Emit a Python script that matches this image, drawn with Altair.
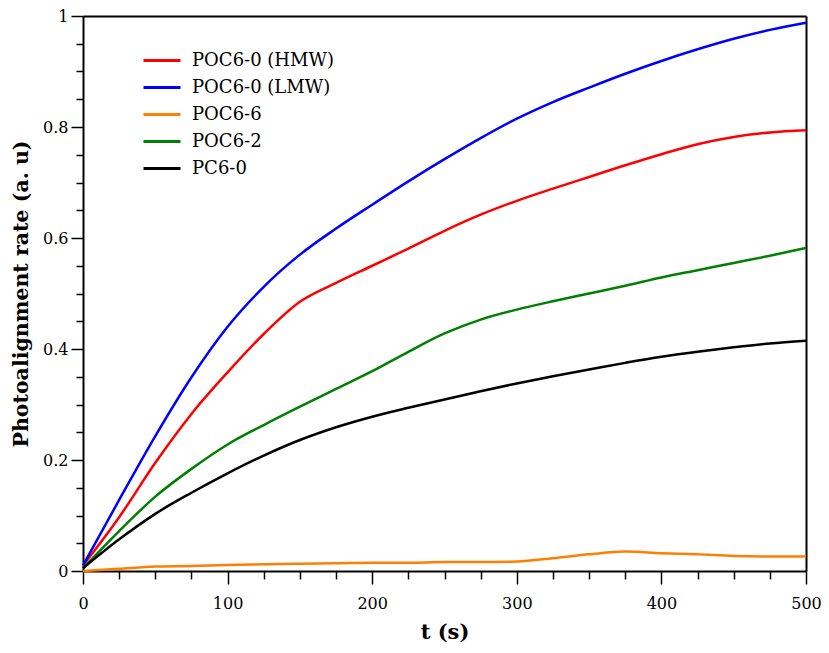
import altair as alt
import pandas as pd

# ---- data ----
t_s = [0, 25, 50, 75, 100, 125, 150, 175, 200, 225, 250, 275, 300, 325, 350, 375, 400, 425, 450, 475, 500]

series_names = ["POC6-0 (HMW)", "POC6-0 (LMW)", "POC6-6", "POC6-2", "PC6-0"]
series_colors = ["#ff0000", "#0000ff", "#ff8000", "#008000", "#000000"]

poc60_hmw = [0.010, 0.097, 0.195, 0.283, 0.358, 0.427, 0.485, 0.519, 0.550, 0.581, 0.613, 0.642, 0.667, 0.689, 0.710, 0.731, 0.751, 0.769, 0.782, 0.790, 0.794]
poc60_lmw = [0.010, 0.128, 0.243, 0.349, 0.440, 0.512, 0.570, 0.617, 0.660, 0.702, 0.742, 0.780, 0.815, 0.845, 0.871, 0.896, 0.919, 0.940, 0.959, 0.975, 0.988]
poc66 = [0.000, 0.004, 0.008, 0.009, 0.011, 0.012, 0.013, 0.014, 0.015, 0.015, 0.016, 0.016, 0.017, 0.023, 0.030, 0.035, 0.032, 0.030, 0.027, 0.026, 0.026]
poc62 = [0.005, 0.072, 0.134, 0.184, 0.228, 0.263, 0.296, 0.328, 0.360, 0.395, 0.428, 0.453, 0.471, 0.486, 0.500, 0.514, 0.529, 0.542, 0.555, 0.568, 0.582]
pc60 = [0.005, 0.057, 0.103, 0.141, 0.176, 0.208, 0.236, 0.259, 0.278, 0.294, 0.309, 0.324, 0.338, 0.351, 0.363, 0.375, 0.386, 0.395, 0.403, 0.410, 0.415]

x_tick_values = [0, 25, 50, 75, 100, 125, 150, 175, 200, 225, 250, 275, 300, 325, 350, 375, 400, 425, 450, 475, 500]
y_tick_values = [0, 0.05, 0.1, 0.15, 0.2, 0.25, 0.3, 0.35, 0.4, 0.45, 0.5, 0.55, 0.6, 0.65, 0.7, 0.75, 0.8, 0.85, 0.9, 0.95, 1.0]

rows = []
for name, vals in zip(series_names, [poc60_hmw, poc60_lmw, poc66, poc62, pc60]):
    for t, v in zip(t_s, vals):
        rows.append({"t": t, "rate": v, "series": name})
df = pd.DataFrame(rows)

FONT = "DejaVu Serif"
MAJOR_Y = "abs(datum.value * 5 - round(datum.value * 5)) < 0.000001"

x_axis = alt.Axis(
    title="t (s)",
    values=x_tick_values,
    labelExpr="datum.value % 100 === 0 ? datum.label : ''",
    format="d",
    tickSize={"condition": {"test": "datum.value % 100 === 0", "value": 13}, "value": 8},
    tickWidth=1.5,
    tickColor="black",
    domainColor="black",
    domainWidth=2,
    grid=False,
    labelFont=FONT,
    labelFontSize=16,
    labelColor="black",
    labelPadding=11,
    labelFlush=False,
    labelOverlap=False,
    titleFont=FONT,
    titleFontSize=21,
    titleFontWeight="bold",
    titleColor="black",
    titlePadding=10,
)

y_axis = alt.Axis(
    title="Photoalignment rate (a. u)",
    values=y_tick_values,
    labelExpr=MAJOR_Y + " ? format(datum.value, '~g') : ''",
    tickSize={"condition": {"test": MAJOR_Y, "value": 12}, "value": 7},
    tickWidth=1.5,
    tickColor="black",
    domainColor="black",
    domainWidth=2,
    grid=False,
    labelFont=FONT,
    labelFontSize=16,
    labelColor="black",
    labelPadding=3,
    labelFlush=False,
    labelOverlap=False,
    titleFont=FONT,
    titleFontSize=20.5,
    titleFontWeight="bold",
    titleColor="black",
    titlePadding=11,
)

frame_x_axis = alt.Axis(orient="top", title=None, labels=False, ticks=False, grid=False,
                        domainColor="black", domainWidth=2)
frame_y_axis = alt.Axis(orient="right", title=None, labels=False, ticks=False, grid=False,
                        domainColor="black", domainWidth=2)

legend = alt.Legend(
    title=None,
    orient="none",
    legendX=59,
    legendY=31,
    symbolType="stroke",
    symbolSize=1369,
    symbolStrokeWidth=3,
    labelFont=FONT,
    labelFontSize=18,
    labelColor="black",
    labelOffset=10,
    padding=0,
    rowPadding=0,
    clipHeight=27,
    labelLimit=400,
)

x_scale = alt.Scale(domain=[0, 500], nice=False, zero=True)
y_scale = alt.Scale(domain=[0, 1], nice=False)

lines = (
    alt.Chart(df)
    .mark_line(strokeWidth=2.5, interpolate="monotone")
    .encode(
        x=alt.X("t:Q", scale=x_scale, axis=x_axis),
        y=alt.Y("rate:Q", scale=y_scale, axis=y_axis),
        color=alt.Color("series:N", scale=alt.Scale(domain=series_names, range=series_colors), legend=legend),
        order=alt.Order("t:Q"),
    )
)

frame = (
    alt.Chart(df)
    .mark_point(opacity=0)
    .encode(
        x=alt.X("t:Q", scale=x_scale, axis=frame_x_axis),
        y=alt.Y("rate:Q", scale=y_scale, axis=frame_y_axis),
    )
)

chart = (
    alt.layer(lines, frame)
    .resolve_axis(x="independent", y="independent")
    .properties(
        width=723,
        height=555,
        autosize=alt.AutoSizeParams(type="none"),
        padding={"left": 75, "top": 8, "right": 15, "bottom": 74},
    )
    .configure_view(stroke="black", strokeWidth=2)
    .configure(background="white")
)

chart.save("out.html", embed_options={"renderer": "svg", "actions": False})
